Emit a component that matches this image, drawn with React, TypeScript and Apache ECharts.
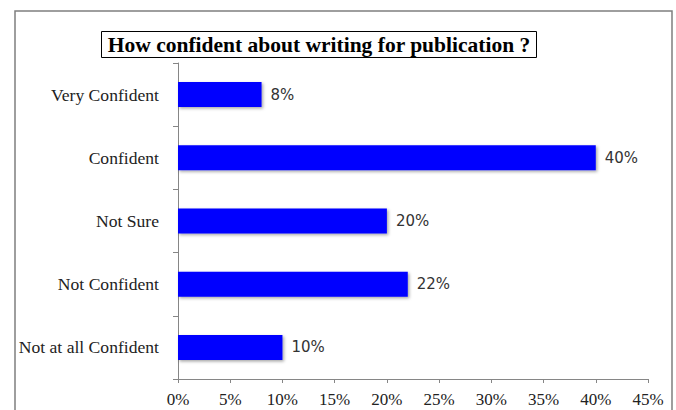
import React, { useEffect, useRef } from "react";
import * as echarts from "echarts";

const categories = [
  "Very Confident",
  "Confident",
  "Not Sure",
  "Not Confident",
  "Not at all Confident",
];
const values = [8, 40, 20, 22, 10];
const titleText = "How confident about writing for publication ?";
const xMin = 0;
const xMax = 45;
const xStep = 5;

export default function App() {
  const ref = useRef<HTMLDivElement>(null);
  useEffect(() => {
    if (!ref.current) return;
    const chart = echarts.init(ref.current, null, { renderer: "svg" });
    const serif = "'Liberation Serif', 'Times New Roman', serif";
    chart.setOption({
      animation: false,
      backgroundColor: "#ffffff",
      grid: { left: 178, right: 28, top: 63, bottom: 31, containLabel: false },
      xAxis: {
        type: "value",
        min: xMin,
        max: xMax,
        interval: xStep,
        axisLine: { show: true, lineStyle: { color: "#868686", width: 1 } },
        axisTick: { show: true, length: 4, lineStyle: { color: "#868686" } },
        splitLine: { show: false },
        axisLabel: {
          formatter: "{value}%",
          margin: 12,
          color: "#222",
          fontFamily: serif,
          fontSize: 17,
        },
      },
      yAxis: {
        type: "category",
        data: categories,
        inverse: true,
        axisLine: { show: true, lineStyle: { color: "#868686", width: 1 } },
        axisTick: { show: true, length: 5, lineStyle: { color: "#868686" } },
        axisLabel: {
          margin: 19,
          color: "#222",
          fontFamily: serif,
          fontSize: 17.6,
        },
      },
      series: [
        {
          type: "bar",
          data: values,
          barWidth: 25,
          itemStyle: {
            color: "#0000ff",
            shadowColor: "rgba(0,0,0,0.35)",
            shadowBlur: 3,
            shadowOffsetX: 1.5,
            shadowOffsetY: 1.5,
          },
          label: {
            show: true,
            position: "right",
            distance: 9,
            formatter: "{c}%",
            color: "#333",
            fontFamily: "'DejaVu Sans', Verdana, sans-serif",
            fontSize: 15,
          },
        },
      ],
      graphic: [
        {
          type: "rect",
          shape: { x: 15, y: 11, width: 657, height: 420 },
          style: { fill: "none", stroke: "#7f7f7f", lineWidth: 1.5 },
          silent: true,
        },
        {
          type: "rect",
          shape: { x: 101.5, y: 31.5, width: 435, height: 26 },
          style: { fill: "#ffffff", stroke: "#000000", lineWidth: 1 },
          silent: true,
        },
        {
          type: "text",
          x: 319,
          y: 45,
          style: {
            text: titleText,
            align: "center",
            verticalAlign: "middle",
            fontFamily: serif,
            fontWeight: "bold",
            fontSize: 21.5,
            fill: "#000",
          },
          silent: true,
        },
      ],
    });
    return () => chart.dispose();
  }, []);
  return (
    <div
      ref={ref}
      style={{ position: "absolute", left: 0, top: 0, width: 676, height: 410 }}
    />
  );
}
